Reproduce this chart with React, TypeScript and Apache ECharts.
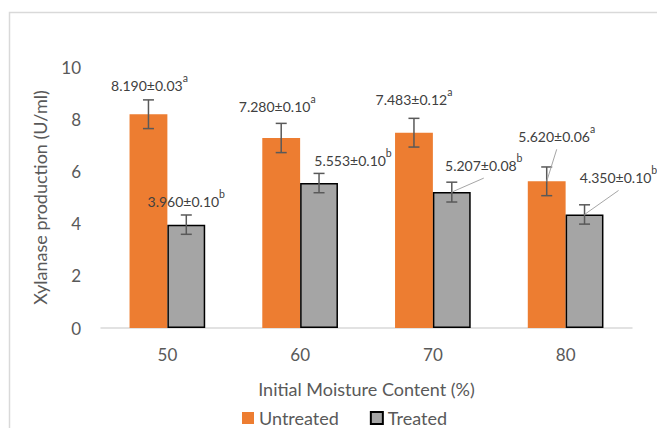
import React, { useEffect, useRef } from 'react';
import * as echarts from 'echarts';

const categories = ['50', '60', '70', '80'];
const untreated = [8.19, 7.28, 7.483, 5.62];
const treated = [3.96, 5.553, 5.207, 4.35];
const untreatedErr = [0.55, 0.56, 0.55, 0.55];
const treatedErr = [0.37, 0.37, 0.38, 0.37];
const untreatedLabels = ['8.190±0.03', '7.280±0.10', '7.483±0.12', '5.620±0.06'];
const untreatedLetters = ['a', 'a', 'a', 'a'];
const treatedLabels = ['3.960±0.10', '5.553±0.10', '5.207±0.08', '4.350±0.10'];
const treatedLetters = ['b', 'b', 'b', 'b'];
const yMin = 0;
const yMax = 10;
const yInterval = 2;

// label placement (pixel offsets from the bar-top point) and leader lines
const labelOffsetsU: number[][] = [[1, -29], [-4, -31], [0, -33], [10, -45]];
const labelOffsetsT: number[][] = [[0, -23], [34, -22.5], [32, -27], [34, -37]];
const leaderU = [false, false, false, true];
const leaderT = [false, false, true, true];

const FONT = 'Lato, "Open Sans", sans-serif';
const GAP_RATIO = 0.57; // 1 - barCategoryGap

function makeRender(sign: number, labels: string[], letters: string[], offsets: number[][], leaders: boolean[]) {
  return (params: any, api: any) => {
    const idx = params.dataIndex;
    const i = api.value(0);
    const v = api.value(1);
    const e = api.value(2);
    const band = api.size([1, 0])[0];
    const off = (sign * band * GAP_RATIO) / 4;
    const c = api.coord([i, v]);
    const x = c[0] + off;
    const yTop = api.coord([i, v + e])[1];
    const yBot = api.coord([i, v - e])[1];
    const cap = 5.5;
    const ls = { stroke: '#595959', lineWidth: 1.5 };
    const children: any[] = [
      { type: 'line', shape: { x1: x, y1: yTop, x2: x, y2: yBot }, style: ls },
      { type: 'line', shape: { x1: x - cap, y1: yTop, x2: x + cap, y2: yTop }, style: ls },
      { type: 'line', shape: { x1: x - cap, y1: yBot, x2: x + cap, y2: yBot }, style: ls },
    ];
    const lx = x + offsets[idx][0];
    const ly = c[1] + offsets[idx][1];
    if (leaders[idx]) {
      children.push({
        type: 'line',
        shape: { x1: lx, y1: ly + 13, x2: x, y2: c[1] },
        style: { stroke: '#a6a6a6', lineWidth: 1 },
      });
    }
    children.push({
      type: 'text',
      x: lx,
      y: ly,
      style: {
        text: `{m|${labels[idx]}}{s|${letters[idx]}}`,
        align: 'center',
        verticalAlign: 'middle',
        fill: '#404040',
        fontFamily: FONT,
        fontSize: 14,
        rich: {
          m: { fontSize: 14, lineHeight: 26, fill: '#404040', fontFamily: FONT },
          s: { fontSize: 10.5, lineHeight: 10, verticalAlign: 'top', fill: '#404040', fontFamily: FONT },
        },
      },
    });
    return { type: 'group', children };
  };
}

export default function App() {
  const ref = useRef<HTMLDivElement>(null);
  useEffect(() => {
    if (!ref.current) return;
    const chart = echarts.init(ref.current, undefined, { renderer: 'svg' });
    chart.setOption({
      animation: false,
      backgroundColor: '#ffffff',
      textStyle: { fontFamily: FONT },
      graphic: [
        {
          type: 'rect',
          shape: { x: 9.5, y: 12.5, width: 700, height: 500 },
          style: { fill: 'none', stroke: '#d9d9d9', lineWidth: 1.5 },
          silent: true,
        },
      ],
      grid: { left: 101, right: 25, top: 67, bottom: 100 },
      legend: {
        data: ['Untreated', 'Treated'],
        left: 237,
        top: 404,
        itemWidth: 12,
        itemHeight: 12,
        itemGap: 31,
        textStyle: { fontSize: 18, color: '#595959', fontFamily: FONT },
        icon: 'rect',
      },
      xAxis: {
        type: 'category',
        data: categories,
        name: 'Initial Moisture Content (%)',
        nameLocation: 'middle',
        nameGap: 52,
        nameTextStyle: { fontSize: 18, color: '#595959', fontFamily: FONT },
        axisLine: { lineStyle: { color: '#d9d9d9', width: 1.5 } },
        axisTick: { show: false },
        axisLabel: { fontSize: 17, color: '#595959', margin: 18, fontFamily: FONT },
      },
      yAxis: {
        type: 'value',
        min: yMin,
        max: yMax,
        interval: yInterval,
        name: 'Xylanase production (U/ml)',
        nameLocation: 'middle',
        nameGap: 52,
        nameTextStyle: { fontSize: 18, color: '#595959', fontFamily: FONT },
        axisLine: { show: false },
        axisTick: { show: false },
        splitLine: { show: false },
        axisLabel: { fontSize: 17, color: '#595959', margin: 20, fontFamily: FONT },
      },
      series: [
        {
          name: 'Untreated',
          type: 'bar',
          data: untreated,
          barGap: '0%',
          barCategoryGap: '43%',
          itemStyle: { color: '#ed7d31' },
        },
        {
          name: 'Treated',
          type: 'bar',
          data: treated,
          barGap: '0%',
          barCategoryGap: '43%',
          itemStyle: { color: '#a5a5a5', borderColor: '#000000', borderWidth: 1.5 },
        },
        {
          name: 'errU',
          type: 'custom',
          z: 5,
          renderItem: makeRender(-1, untreatedLabels, untreatedLetters, labelOffsetsU, leaderU),
          encode: { x: 0, y: 1 },
          data: untreated.map((v, i) => [i, v, untreatedErr[i]]),
        },
        {
          name: 'errT',
          type: 'custom',
          z: 5,
          renderItem: makeRender(1, treatedLabels, treatedLetters, labelOffsetsT, leaderT),
          encode: { x: 0, y: 1 },
          data: treated.map((v, i) => [i, v, treatedErr[i]]),
        },
      ],
    });
    return () => chart.dispose();
  }, []);
  return (
    <div
      ref={ref}
      style={{ position: 'fixed', left: 0, top: 0, width: 657, height: 428 }}
    />
  );
}
